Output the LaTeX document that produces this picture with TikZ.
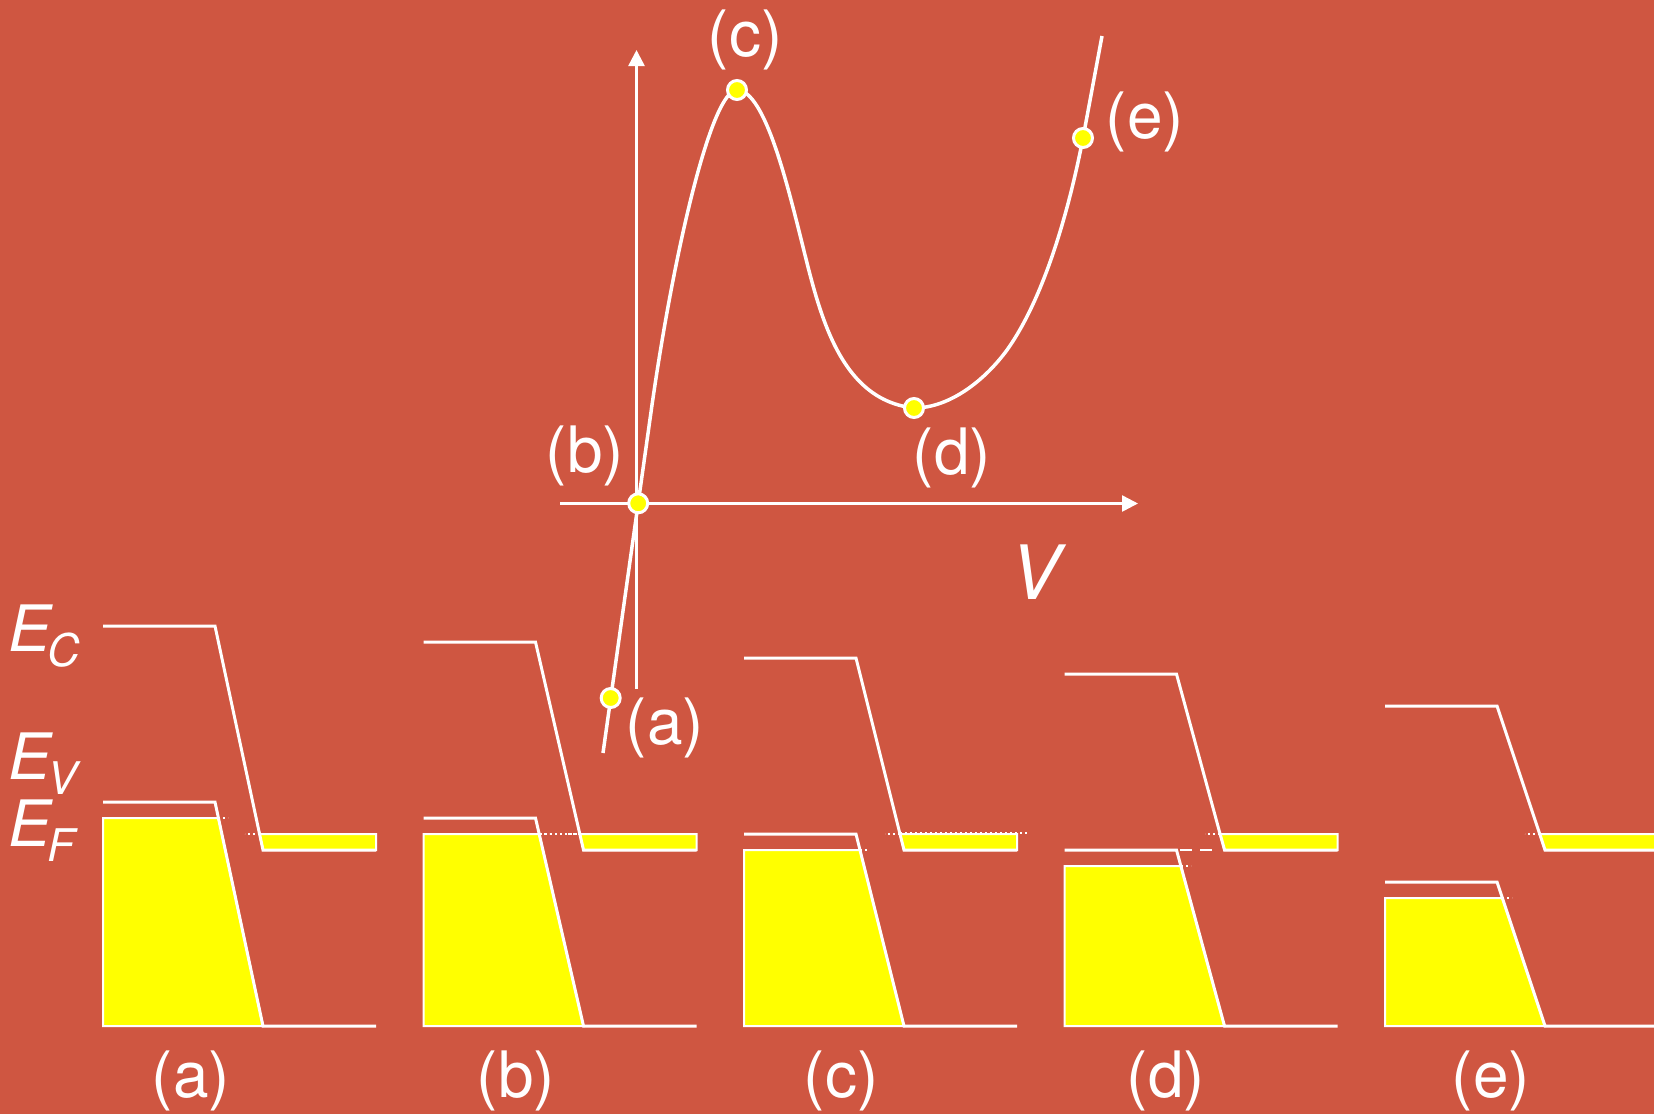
\documentclass[tikz,border=0pt]{standalone}
\usepackage{fontspec}
\setmainfont{TeX Gyre Heros}
\usetikzlibrary{arrows.meta, positioning, calc}
\definecolor{bgred}{HTML}{CF5641}
\definecolor{fillyel}{HTML}{FFFF00}
\newcommand{\elevel}[1]{\itshape E\kern-3pt\lower15pt\hbox{\fontsize{45}{45}\selectfont #1}}
\tikzset{
    band/.style={draw=white, line width=3pt},
    filled/.style={fill=fillyel, draw=white, line width=2pt, line join=miter},
    axis/.style={draw=white, line width=2.5pt, -{Triangle[length=16pt,width=16pt]}},
    curve/.style={draw=white, line width=3.5pt},
    dot/.style={circle, fill=fillyel, draw=white, line width=3pt, minimum size=19pt, inner sep=0pt},
    lbl/.style={text=white, font=\fontsize{64}{64}\selectfont, inner sep=0pt},
    elbl/.style={text=white, font=\fontsize{64}{64}\selectfont, inner sep=0pt, anchor=base west},
    fermi/.style={draw=white, line width=2pt, dash pattern=on 2pt off 3pt}
}
\begin{document}
\begin{tikzpicture}[x=1pt, y=-1pt]

    % background
    \fill[bgred] (0,0) rectangle (1654,1114);
    \useasboundingbox (0,0) rectangle (1654,1114);
    \clip (0,0) rectangle (1654,1114);

    % I-V characteristic
    \coordinate (vbot) at (636.5,689);
    \coordinate (vtop) at (636.5,50);
    \coordinate (hleft) at (560,503.5);
    \coordinate (hright) at (1138,503.5);
    \draw[axis] (vbot) -- (vtop);
    \draw[axis] (hleft) -- (hright);

    \draw[curve] (603,753) -- (652,405)
        .. controls (675,245) and (712,90) .. (737,90)
        .. controls (765,90) and (788,187) .. (803,247)
        .. controls (820,315) and (840,400) .. (914,408)
        .. controls (950,408) and (985,380) .. (1007,350)
        .. controls (1037,308) and (1064,235) .. (1083,138)
        -- (1102,36);

    \node[dot] (pa) at (610.7,698) {};
    \node[dot] (pb) at (638.2,503.3) {};
    \node[dot] (pc) at (737,90) {};
    \node[dot] (pd) at (914,408) {};
    \node[dot] (pe) at (1083,138) {};

    \node[lbl] (la) at (665,728) {(a)};
    \node[lbl] (lb) at (585,456) {(b)};
    \node[lbl] (lc) at (745,40) {(c)};
    \node[lbl] (ld) at (952,458) {(d)};
    \node[lbl] (le) at (1145,122) {(e)};
    \node[elbl, font=\fontsize{75}{75}\selectfont\itshape] (vlbl) at (1010,599) {V};

    % energy levels
    \node[elbl] (ec) at (8,651) {\elevel{C}};
    \node[elbl] (ev) at (8,779) {\elevel{V}};
    \node[elbl] (ef) at (8,846) {\elevel{F}};

    % band diagrams
    \foreach \i/\yc in {0/626, 1/642, 2/658, 3/674, 4/706} {
        \pgfmathsetmacro{\xa}{103+320.5*\i}
        \pgfmathsetmacro{\xb}{\xa+112}
        \pgfmathsetmacro{\xc}{\xa+160}
        \pgfmathsetmacro{\xd}{\xa+273}
        \pgfmathsetmacro{\yv}{\yc+176}
        \pgfmathsetmacro{\yf}{\yv+16}
        \pgfmathsetmacro{\xn}{\xb+48*(834-\yc)/(850-\yc)}
        \pgfmathsetmacro{\xp}{\xb+48*(\yf-\yv)/(1026-\yv)}
        \path[filled] (\xa,\yf) -- (\xp,\yf) -- (\xc,1026) -- (\xa,1026) -- cycle;
        \path[filled] (\xn,834) -- (\xd,834) -- (\xd,850) -- (\xc,850) -- cycle;
        \draw[band] (\xa,\yc) -- (\xb,\yc) -- (\xc,850) -- (\xd,850);
        \draw[band] (\xa,\yv) -- (\xb,\yv) -- (\xc,1026) -- (\xd,1026);
        \draw[fermi] (\xp,\yf) -- ++(10,0);
        \draw[fermi] (\xn,834) -- ++(-15,0);
    }
    \draw[fermi] (540,834) -- (580,834);
    \draw[fermi] (900,833) -- (1028,833);
    \draw[white, line width=2pt, dash pattern=on 12pt off 8pt] (1180,850) -- (1218,850);

    \foreach \n/\x in {a/191, b/516, c/841, d/1166, e/1491}
        \node[lbl] (band\n) at (\x,1081) {(\n)};

\end{tikzpicture}
\end{document}
